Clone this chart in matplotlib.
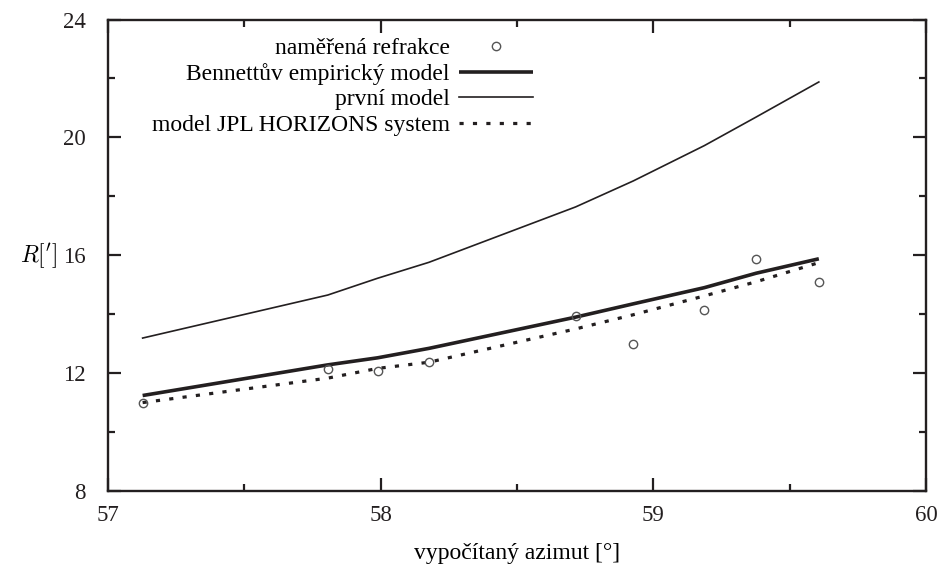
import numpy as np
import matplotlib
matplotlib.use("Agg")
from matplotlib import pyplot as plt

# measured refraction vs computed azimuth
azimut = [57.127, 57.806, 57.989, 58.177, 58.715, 58.926, 59.187, 59.377, 59.607]
namerena = [11.00, 12.13, 12.07, 12.38, 13.95, 12.99, 14.14, 15.87, 15.10]

# model curves evaluated at the same azimuths
bennett = [11.24, 12.28, 12.52, 12.84, 13.90, 14.35, 14.90, 15.39, 15.88]
prvni = [13.19, 14.65, 15.22, 15.76, 17.64, 18.52, 19.72, 20.69, 21.88]
jpl = [11.00, 11.83, 12.16, 12.37, 13.50, 13.98, 14.62, 15.10, 15.75]

x_ticks = [57, 58, 59, 60]
y_ticks = [8, 12, 16, 20, 24]

plt.rcParams["font.family"] = ["Liberation Serif", "DejaVu Serif"]
plt.rcParams["mathtext.fontset"] = "cm"
plt.rcParams["font.size"] = 17

ink = "#231f20"

fig = plt.figure(figsize=(9.43, 5.67), dpi=100)
ax = fig.add_axes([108 / 943, 76 / 567, 818 / 943, 471.5 / 567])

ax.plot(azimut, namerena, linestyle="none", marker="o", markersize=6,
        markerfacecolor="none", markeredgecolor="#555555", markeredgewidth=1.0,
        label="naměřená refrakce", zorder=4)
ax.plot(azimut, bennett, color=ink, linewidth=2.6, solid_capstyle="butt",
        label="Bennettův empirický model")
ax.plot(azimut, prvni, color=ink, linewidth=1.2, label="první model")
ax.plot(azimut, jpl, color=ink, linewidth=2.3, linestyle=(0, (1.3, 2.9)),
        dash_capstyle="butt", label="model JPL HORIZONS system")

ax.set_xlim(57, 60)
ax.set_ylim(8, 24)
ax.set_xticks(x_ticks)
ax.set_yticks(y_ticks)
ax.set_xticks(np.arange(57.5, 60, 1.0), minor=True)
ax.set_yticks(np.arange(10, 24, 4), minor=True)

ax.tick_params(which="both", direction="in", top=True, right=True, colors=ink,
               width=1.6, labelsize=16.5)
ax.tick_params(which="major", length=9.5)
ax.tick_params(which="minor", length=5)
ax.tick_params(axis="y", which="major", pad=16)
ax.tick_params(axis="x", which="major", pad=10)
for sp in ax.spines.values():
    sp.set_linewidth(1.7)
    sp.set_color(ink)

ax.set_xlabel("vypočítaný azimut [°]", labelpad=12)
ax.set_ylabel(r"$R[{}^{\prime}]$", rotation=0, fontsize=17, va="center", ha="center")
ax.yaxis.set_label_coords(-0.085, 0.5)

leg = ax.legend(loc="upper right", bbox_to_anchor=(0.519, 0.962), frameon=False,
                markerfirst=False, handlelength=3.1, handletextpad=0.4,
                labelspacing=0.17, borderaxespad=0.0, borderpad=0.0)

fig.savefig("out.png", dpi=100)
